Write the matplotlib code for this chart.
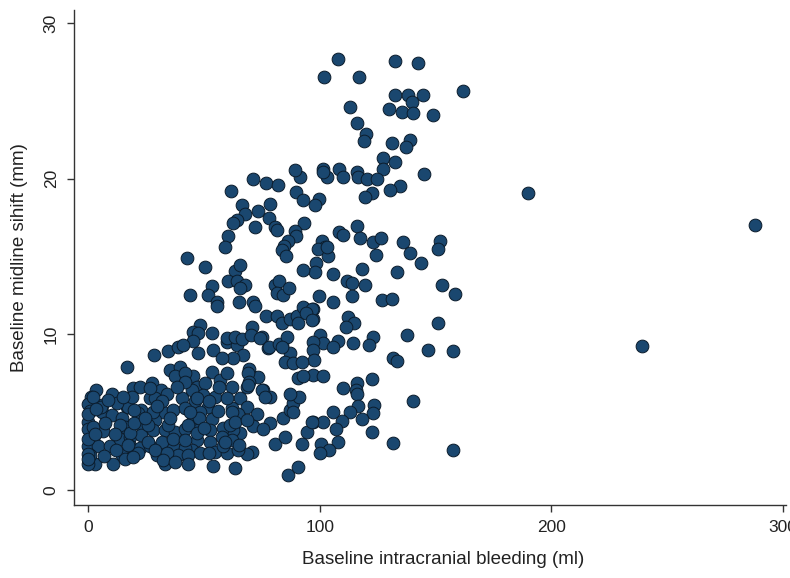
"""
Scatter of baseline midline shift against baseline intracranial bleeding
"""

import matplotlib
matplotlib.use('Agg')
import matplotlib.pyplot as plt

plt.rcParams['font.family'] = ['Liberation Sans', 'DejaVu Sans']

# bleeding volume (ml) and midline shift (mm)
bleeding = [
    # upper right group
    108.0, 101.9, 117.0, 132.5, 142.6, 162.0, 132.5, 138.2, 144.4, 139.7,
    113.1, 130.0, 135.4, 140.4, 149.0, 116.2, 120.0, 119.3, 131.2, 139.0,
    137.2, 127.5, 132.5, 127.2, 101.3, 108.5, 103.3, 110.2, 116.2, 116.7,
    120.3, 124.6, 145.2, 134.7, 130.3, 122.4, 119.5, 99.8, 98.0,
    # right middle
    116.0, 108.5, 110.2, 117.4, 100.9, 102.3, 99.4, 103.7, 123.1, 126.3,
    124.3, 135.8, 139.0, 143.6, 151.9, 151.2, 98.4, 98.0, 105.9, 118.1,
    133.2, 111.9, 113.8, 119.5, 152.6, 158.4, 99.8, 105.9, 113.8, 126.7,
    131.1, 97.0, 97.0, 112.4, 114.8, 111.3, 150.9, 137.5, 100.1, 101.6,
    97.2, 108.0, 114.5, 123.1, 121.4, 105.6, 146.9, 157.7,
    # right lower
    97.2, 97.5, 131.5, 133.2, 97.2, 101.6, 122.7, 110.2, 116.2, 115.7,
    116.0, 140.1, 116.7, 123.6, 123.1, 105.9, 113.1, 97.0, 101.6, 109.5,
    118.1, 107.0, 122.7, 108.0, 100.4, 104.1, 100.1, 131.8, 157.7,
    # outliers
    189.9, 239.1, 287.9,
    # middle lower
    86.5, 90.8, 80.7, 85.0, 92.2, 94.4, 96.5, 84.3, 87.2, 88.6,
    91.2, 87.2, 78.6, 75.4, 73.5, 69.6, 65.6, 62.0, 68.5, 64.9,
    72.8, 78.6, 71.1, 75.7, 65.6, 62.7, 70.6, 68.5, 63.4, 54.1,
    47.6, 54.1, 59.9, 64.2, 67.0, 62.7, 57.7, 77.8, 83.6, 87.2,
    85.0, 88.6, 92.2, 90.8, 92.9, 53.4, 57.0, 59.9, 62.0, 68.5,
    69.2, 45.5, 46.9, 50.5, 49.8, 54.8, 46.2, 51.9, 48.3, 53.4,
    45.5, 47.6, 52.7, 58.4, 61.3, 57.7, 62.0, 52.7, 46.9, 44.8,
    48.3, 54.8, 59.9, 64.9, 58.4,
    # left cluster
    16.7, 28.6, 34.7, 38.7, 35.4, 39.7, 37.5, 41.9, 3.7, 10.2,
    1.3, 0.0, 5.9, 0.9, 5.9, 10.2, 16.7, 19.6, 22.4, 27.5,
    31.5, 34.0, 26.8, 28.9, 40.4, 44.8, 23.1, 21.7, 32.5, 36.8,
    41.9, 14.5, 28.9, 23.9, 16.0, 0.0, 0.0, 6.6, 2.3, 0.0,
    4.5, 9.5, 13.8, 18.1, 23.1, 28.2, 33.2, 37.5, 41.9, 18.1,
    22.4, 26.8, 31.8, 36.8, 41.9, 14.5, 21.7, 29.6, 39.0, 0.9,
    3.0, 10.9, 16.0, 33.2, 0.0,
    2.2, 5.7, 17.3, 20.1, 2.2, 13.7, 18.0, 17.3, 0.7, 19.4,
    26.8, 31.8, 41.9, 28.2, 34.7, 26.0, 43.3, 26.0, 31.8, 36.8,
    41.9, 28.9, 34.0, 43.3, 32.5, 37.5, 43.3,
    69.4, 47.0, 52.1, 47.8, 62.1, 63.6, 68.6, 47.0, 59.3, 65.0,
    52.1, 74.9, 69.2, 74.9, 76.4, 88.6, 0.0, 0.0, 0.0, 0.0,
    7.5, 11.5, 7.0, 12.5, 3.2, 3.5, 8.5, 12.0, 20.0, 24.5,
    19.0, 30.0, 35.5, 38.5, 44.0, 56.0, 50.0, 56.5, 60.0, 15.0,
    # upper middle
    71.1, 76.8, 82.1, 61.6, 89.8, 91.5, 89.3, 101.6, 92.7, 66.3,
    67.8, 73.5, 78.6, 78.3, 80.7, 81.4, 72.1, 64.2, 62.7, 93.2,
    89.3, 89.8, 86.4, 84.6, 83.6, 85.5, 60.6, 59.1, 103.0, 42.9,
    50.5, 63.4, 65.6, 60.6, 64.2, 67.8, 65.6, 53.4, 51.9, 44.0,
    55.5, 55.5, 65.3, 71.3, 72.1, 80.7, 82.6, 81.4, 84.3, 86.9,
    92.9, 76.8, 81.4, 83.6, 87.2, 90.1, 90.8, 92.9, 96.5, 94.1,
    96.5, 48.3, 45.5, 47.6, 53.4, 45.5, 59.9, 63.4, 66.3, 70.6,
    70.2, 74.2, 78.3, 82.6, 86.0, 83.6, 41.1,
]

shift = [
    # upper right group
    27.7, 26.5, 26.5, 27.55, 27.45, 25.65, 25.4, 25.4, 25.4, 24.9,
    24.6, 24.45, 24.25, 24.2, 24.1, 23.55, 22.85, 22.4, 22.3, 22.5,
    22.0, 21.35, 21.1, 20.65, 20.65, 20.65, 20.1, 20.1, 20.4, 20.1,
    20.0, 20.0, 20.3, 19.55, 19.3, 19.1, 18.8, 18.7, 18.3,
    # right middle
    16.95, 16.6, 16.4, 16.2, 16.0, 15.6, 15.5, 15.0, 15.9, 16.2,
    15.1, 15.9, 15.2, 14.6, 16.0, 15.45, 14.6, 14.0, 13.9, 14.2,
    14.0, 13.4, 13.3, 13.15, 13.15, 12.6, 12.45, 12.1, 12.45, 12.2,
    12.25, 11.6, 11.0, 11.1, 10.75, 10.5, 10.7, 9.95, 9.95, 9.45,
    9.5, 9.6, 9.45, 9.8, 9.3, 9.2, 9.0, 8.9,
    # right lower
    9.0, 8.35, 8.5, 8.3, 7.4, 7.3, 7.15, 6.55, 6.9, 6.4,
    6.2, 5.7, 5.4, 5.45, 4.95, 5.0, 5.0, 4.4, 4.4, 4.45,
    4.55, 3.95, 3.75, 3.1, 2.95, 2.55, 2.35, 3.05, 2.55,
    # outliers
    19.1, 9.25, 17.0,
    # middle lower
    0.96, 1.5, 2.95, 3.4, 2.95, 3.7, 4.4, 4.6, 5.15, 5.6,
    6.0, 6.2, 5.95, 6.45, 7.25, 7.8, 5.9, 5.25, 5.35, 4.9,
    4.9, 4.3, 4.1, 3.9, 3.65, 3.85, 2.45, 2.3, 1.4, 1.55,
    8.8, 9.0, 9.5, 9.3, 8.65, 8.45, 8.45, 9.1, 9.3, 8.8,
    8.2, 8.15, 8.2, 7.2, 7.3, 7.6, 7.05, 7.5, 6.65, 6.65,
    7.5, 7.3, 6.65, 6.85, 6.1, 6.0, 5.7, 5.35, 5.0, 4.55,
    4.5, 3.85, 3.85, 4.0, 4.15, 3.4, 3.2, 3.1, 3.2, 2.55,
    2.35, 2.45, 2.35, 2.55, 2.8,
    # left cluster
    7.9, 8.65, 8.9, 9.2, 7.7, 7.9, 7.3, 7.5, 6.45, 6.2,
    6.0, 5.5, 5.45, 5.1, 5.0, 4.8, 5.35, 6.55, 6.65, 6.85,
    6.45, 6.2, 5.9, 5.9, 5.9, 6.4, 5.15, 4.95, 5.0, 5.15,
    5.25, 4.6, 4.5, 3.95, 4.05, 4.4, 3.95, 3.8, 3.2, 2.8,
    2.85, 2.8, 3.3, 3.4, 3.55, 3.85, 3.85, 3.75, 3.95, 2.8,
    2.7, 2.8, 2.85, 2.8, 2.7, 2.25, 2.35, 2.25, 2.25, 1.9,
    1.7, 1.7, 2.0, 1.65, 1.7,
    6.0, 5.35, 5.35, 5.15, 4.05, 4.15, 3.65, 2.9, 2.25, 2.15,
    6.55, 5.7, 6.95, 5.0, 4.15, 4.15, 4.15, 3.1, 3.1, 3.3,
    3.2, 2.55, 2.35, 2.25, 1.9, 1.8, 1.7,
    6.95, 5.9, 5.7, 4.6, 5.0, 4.4, 4.5, 3.65, 3.1, 2.9,
    2.35, 9.85, 6.75, 6.4, 6.0, 5.0, 2.3, 3.3, 4.9, 2.0,
    4.3, 3.6, 2.2, 5.6, 3.6, 5.2, 5.8, 2.6, 4.3, 4.6,
    6.0, 5.4, 4.6, 6.6, 5.0, 5.1, 4.0, 6.6, 5.9, 6.0,
    # upper middle
    20.0, 19.7, 19.6, 19.2, 19.15, 20.1, 20.55, 20.45, 18.6, 18.3,
    17.75, 17.95, 18.4, 17.45, 16.9, 16.7, 16.9, 17.35, 17.15, 17.15,
    16.65, 16.3, 16.0, 15.65, 15.4, 15.0, 16.3, 15.6, 15.6, 14.9,
    14.3, 14.1, 14.45, 13.4, 13.4, 13.2, 12.95, 13.1, 12.5, 12.5,
    12.1, 11.8, 12.1, 12.05, 11.8, 13.2, 13.4, 12.65, 12.5, 12.95,
    14.15, 11.15, 11.2, 10.7, 11.0, 11.15, 10.7, 11.75, 11.6, 11.35,
    10.95, 10.6, 10.15, 10.1, 10.1, 9.6, 9.75, 9.85, 9.7, 10.5,
    9.95, 9.75, 9.2, 9.4, 9.85, 9.2, 9.3,
]

x_ticks = [0, 100, 200, 300]
y_ticks = [0, 10, 20, 30]

fig = plt.figure(figsize=(7.9, 5.78), dpi=100)
ax = fig.add_axes([74 / 790, 73 / 578, 712 / 790, 495 / 578])

ax.scatter(bleeding, shift, s=84, c='#1a476f', edgecolors='#0b1c2c',
           linewidths=0.7, zorder=3)

ax.set_xlim(-6.0, 301.2)
ax.set_ylim(-0.96, 30.83)
ax.set_xticks(x_ticks)
ax.set_yticks(y_ticks)
ax.set_yticklabels([str(t) for t in y_ticks], rotation=90, va='center')

ax.spines['top'].set_visible(False)
ax.spines['right'].set_visible(False)
for side in ['left', 'bottom']:
    ax.spines[side].set_color('#333333')
    ax.spines[side].set_linewidth(1.0)

ax.tick_params(axis='both', length=5, width=1.0, color='#333333',
               labelsize=12.5, labelcolor='#222222', pad=6)

ax.set_xlabel('Baseline intracranial bleeding (ml)', fontsize=13.5,
              color='#222222')
ax.set_ylabel('Baseline midline sihift (mm)', fontsize=13.5,
              color='#222222')
ax.xaxis.set_label_coords(0.518, -0.092)
ax.yaxis.set_label_coords(-0.064, 0.5)

fig.savefig('out.png', dpi=100)
